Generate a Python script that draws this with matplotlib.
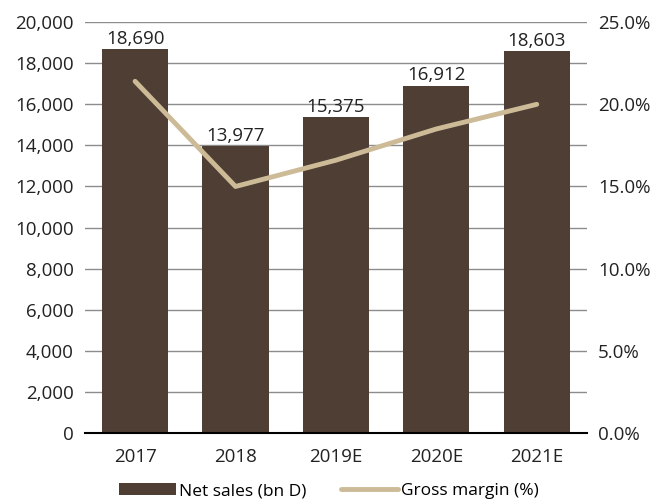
import matplotlib.pyplot as plt
from matplotlib.ticker import FuncFormatter

plt.rcParams['font.family'] = ['Open Sans', 'DejaVu Sans']

years = ['2017', '2018', '2019E', '2020E', '2021E']
net_sales = [18690, 13977, 15375, 16912, 18603]
gross_margin = [21.4, 15.0, 16.6, 18.5, 20.0]

bar_color = '#4e3e33'
line_color = '#cdbb98'
grid_color = '#8c8c8c'
fs = 13.5

fig = plt.figure(figsize=(6.58, 5.04), dpi=100)
ax = fig.add_axes([0.129, 0.141, 0.763, 0.815])
x = range(len(years))

bars = ax.bar(x, net_sales, width=0.66, color=bar_color, zorder=2, label='Net sales (bn D)')
for xi, v in zip(x, net_sales):
    ax.text(xi, v + 60, f'{v:,}', ha='center', va='bottom', fontsize=fs, color='#222222')

ax.set_xlim(-0.5, len(years) - 0.5)
ax.set_ylim(0, 20000)
ax.set_yticks(range(0, 20001, 2000))
ax.yaxis.set_major_formatter(FuncFormatter(lambda v, p: f'{int(v):,}'))
ax.set_xticks(list(x))
ax.set_xticklabels(years)
ax.grid(axis='y', color=grid_color, linewidth=1, zorder=0)
for s in ['left', 'right', 'top']:
    ax.spines[s].set_visible(False)
ax.spines['bottom'].set_color('black')
ax.spines['bottom'].set_linewidth(1.5)
ax.tick_params(axis='both', length=0, labelsize=fs, colors='#222222', pad=8)
ax.tick_params(axis='x', pad=11)

ax2 = ax.twinx()
line, = ax2.plot(x, gross_margin, color=line_color, linewidth=3.5, solid_capstyle='round',
                 zorder=3, label='Gross margin (%)')
ax2.set_ylim(0, 25)
ax2.set_yticks(range(0, 26, 5))
ax2.yaxis.set_major_formatter(FuncFormatter(lambda v, p: f'{v:.1f}%'))
for s in ax2.spines.values():
    s.set_visible(False)
ax2.tick_params(axis='y', length=0, labelsize=fs, colors='#222222', pad=8)

fig.legend([bars, line], ['Net sales (bn D)', 'Gross margin (%)'], loc='lower center',
           bbox_to_anchor=(0.5, -0.022), ncol=2, frameon=False, fontsize=12.5,
           handlelength=3.3, handletextpad=0.15, columnspacing=2.0)

fig.savefig('out.png', dpi=100)
